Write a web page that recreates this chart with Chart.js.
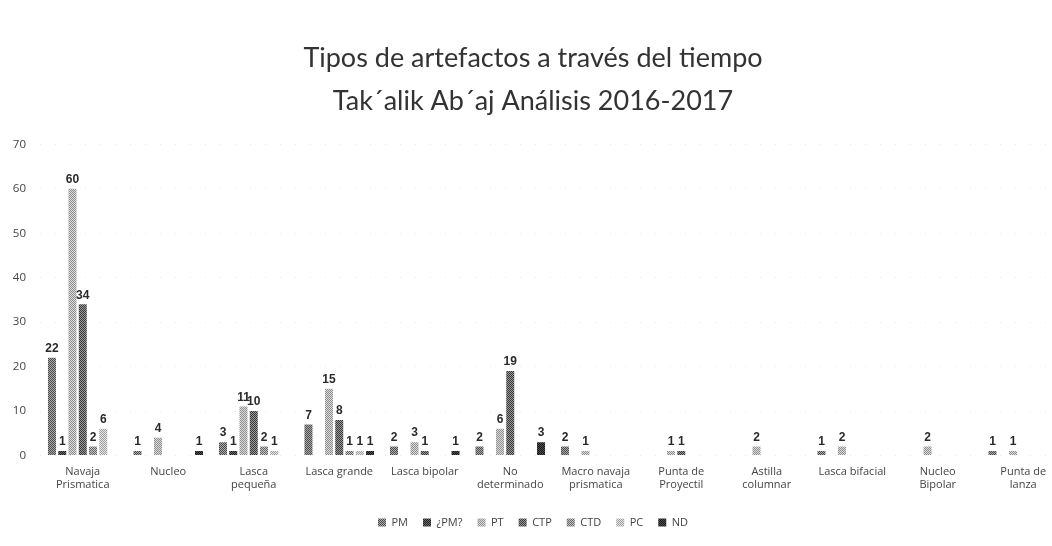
<!DOCTYPE html>
<html>
<head>
<meta charset="utf-8">
<script src="https://cdn.jsdelivr.net/npm/chart.js@4.4.1/dist/chart.umd.min.js"></script>
<style>
    html, body { margin: 0; padding: 0; background: #fff; overflow: hidden; }
    #wrap { position: relative; width: 1070px; height: 546px; }
</style>
</head>
<body>
<div id="wrap"><canvas id="chart"></canvas></div>
<script>
var categories = [
    ['Navaja', 'Prismatica'], 'Nucleo', ['Lasca', 'pequeña'], 'Lasca grande', 'Lasca bipolar',
    ['No', 'determinado'], ['Macro navaja', 'prismatica'], ['Punta de', 'Proyectil'],
    ['Astilla', 'columnar'], 'Lasca bifacial', ['Nucleo', 'Bipolar'], ['Punta de', 'lanza']
];
var seriesNames = ['PM', '¿PM?', 'PT', 'CTP', 'CTD', 'PC', 'ND'];
var pm     = [22, 1, 3, 7, 2, 2, 2, null, null, 1, null, 1];
var pmQ    = [1, null, 1, null, null, null, null, null, null, null, null, null];
var pt     = [60, 4, 11, 15, 3, 6, 1, 1, 2, 2, 2, 1];
var ctp    = [34, null, 10, 8, 1, 19, null, 1, null, null, null, null];
var ctd    = [2, null, 2, 1, null, null, null, null, null, null, null, null];
var pc     = [6, null, 1, 1, null, null, null, null, null, null, null, null];
var nd     = [null, 1, null, 1, 1, 3, null, null, null, null, null, null];
var yTicks = [0, 10, 20, 30, 40, 50, 60, 70];

// scanned look: each series is a small two-tone dither
var seriesTones = [
    ['#4a4a4a', '#acacac'],
    ['#1c1c1c', '#707070'],
    ['#8e8e8e', '#dcdcdc'],
    ['#363636', '#9c9c9c'],
    ['#626262', '#c8c8c8'],
    ['#9e9e9e', '#e6e6e6'],
    ['#161616', '#505050']
];
var seriesData = [pm, pmQ, pt, ctp, ctd, pc, nd];

function makePattern(dark, light) {
    var c = document.createElement('canvas');
    c.width = 2;
    c.height = 2;
    var g = c.getContext('2d');
    g.fillStyle = light;
    g.fillRect(0, 0, 2, 2);
    g.fillStyle = dark;
    g.fillRect(0, 0, 1, 1);
    g.fillRect(1, 1, 1, 1);
    return g.createPattern(c, 'repeat');
}

var valueLabels = {
    id: 'valueLabels',
    afterDatasetsDraw: function (chart) {
        var ctx = chart.ctx;
        ctx.save();
        ctx.font = 'bold 12px "Liberation Sans", Arial, sans-serif';
        ctx.fillStyle = '#2a2a2a';
        ctx.textAlign = 'center';
        ctx.textBaseline = 'bottom';
        chart.data.datasets.forEach(function (ds, i) {
            chart.getDatasetMeta(i).data.forEach(function (bar, j) {
                var v = ds.data[j];
                if (v === null || typeof v === 'undefined') {
                    return;
                }
                ctx.fillText(String(v), bar.x, bar.y - 3);
            });
        });
        ctx.restore();
    }
};

new Chart(document.getElementById('chart').getContext('2d'), {
    type: 'bar',
    data: {
        labels: categories,
        datasets: seriesNames.map(function (name, i) {
            return {
                label: name,
                data: seriesData[i],
                backgroundColor: makePattern(seriesTones[i][0], seriesTones[i][1]),
                categoryPercentage: 0.84,
                barPercentage: 0.78
            };
        })
    },
    options: {
        responsive: true,
        maintainAspectRatio: false,
        animation: false,
        layout: { padding: { left: 0, right: 4, top: 0, bottom: 8 } },
        plugins: {
            title: {
                display: true,
                text: ['Tipos de artefactos a través del tiempo', 'Tak´alik Ab´aj Análisis 2016-2017'],
                color: '#333',
                font: { family: 'Lato, "Open Sans", sans-serif', size: 27, weight: 'normal', lineHeight: 1.58 },
                padding: { top: 37, bottom: 22 }
            },
            legend: {
                position: 'bottom',
                labels: {
                    boxWidth: 8,
                    boxHeight: 8,
                    padding: 15,
                    color: '#444',
                    font: { family: '"Open Sans", sans-serif', size: 11 }
                }
            },
            tooltip: { enabled: false }
        },
        scales: {
            x: {
                afterFit: function (scale) { scale.height += 9; },
                grid: { display: false },
                border: { display: false },
                ticks: {
                    color: '#444',
                    maxRotation: 0,
                    autoSkip: false,
                    padding: 1,
                    font: { family: '"Open Sans", sans-serif', size: 11, lineHeight: 1.25 }
                }
            },
            y: {
                min: 0,
                max: 70,
                afterFit: function (scale) { scale.width = 40; },
                afterBuildTicks: function (scale) {
                    scale.ticks = yTicks.map(function (v) { return { value: v }; });
                },
                grid: { color: '#e8e8e8', drawTicks: false, lineWidth: 1 },
                border: { display: false, dash: [1, 14] },
                ticks: {
                    color: '#444',
                    padding: 14,
                    font: { family: '"Open Sans", sans-serif', size: 11.5 }
                }
            }
        }
    },
    plugins: [valueLabels]
});
</script>
</body>
</html>
